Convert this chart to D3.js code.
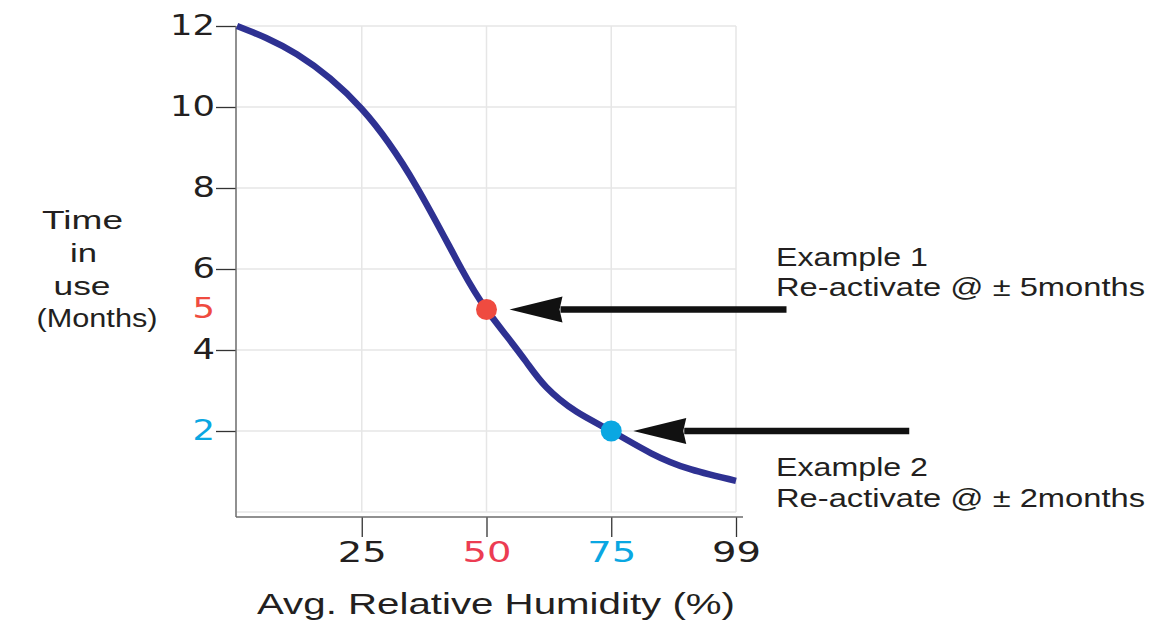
<!DOCTYPE html>
<html>
<head>
<meta charset="utf-8">
<script src="https://cdn.jsdelivr.net/npm/d3@7"></script>
<style>
  body { margin: 0; background: #fff; }
  text { font-family: "Liberation Sans", Arial, sans-serif; fill: #231f20; }
  .tick text { font-family: "DejaVu Sans", sans-serif; }
</style>
</head>
<body>
<div id="primaryViz"></div>
<script>
// curve: humidity (%) vs time in use (months)
const humidity = [0, 12, 25, 36, 45, 50, 54, 58, 62, 68, 75, 83, 91, 100];
const months = [12, 11.3, 9.95, 8.03, 6.0, 5.0, 4.35, 3.7, 3.08, 2.48, 2.0, 1.45, 1.05, 0.77];

const xTicks = [25, 50, 75, 100];
const xTickLabels = ["25", "50", "75", "99"];
const yTicks = [2, 4, 6, 8, 10, 12];
const yGrid = [0, 2, 4, 6, 8, 10, 12];

// highlighted examples
const exampleX = [50, 75];
const exampleY = [5, 2];
const exampleTitles = ["Example 1", "Example 2"];
const exampleNotes = ["Re-activate @ \u00b1 5months", "Re-activate @ \u00b1 2months"];

const yLabelLines = ["Time", "in", "use", "(Months)"];
const xLabel = "Avg. Relative Humidity (%)";

const red = "#ef4b40";
const blue = "#0aa7e2";

const width = 1151;
const height = 622;

const xScale = d3.scaleLinear().domain([0, 100]).range([237, 736]);
const yScale = d3.scaleLinear().domain([0, 12]).range([512, 26]);

const svg = d3
  .select("#primaryViz")
  .append("svg")
  .attr("width", width)
  .attr("height", height);

// grid
svg
  .append("g")
  .selectAll("line")
  .data(yGrid)
  .enter()
  .append("line")
  .attr("x1", xScale(0))
  .attr("x2", xScale(100))
  .attr("y1", (d) => yScale(d))
  .attr("y2", (d) => yScale(d))
  .attr("stroke", "#e6e6e6")
  .attr("stroke-width", 1.5);

svg
  .append("g")
  .selectAll("line")
  .data(xTicks)
  .enter()
  .append("line")
  .attr("x1", (d) => xScale(d))
  .attr("x2", (d) => xScale(d))
  .attr("y1", yScale(0))
  .attr("y2", yScale(12))
  .attr("stroke", "#e6e6e6")
  .attr("stroke-width", 1.5);

// axes (domain lines drawn by hand, they run a bit past the grid)
const axisY = yScale(0) + 5;
const axisX = xScale(0) - 1;

const yAxis = d3.axisLeft(yScale).tickValues(yTicks).tickSize(20).tickPadding(1);
const yG = svg
  .append("g")
  .attr("class", "myYaxis")
  .attr("transform", "translate(" + axisX + ",0)")
  .call(yAxis);
yG.select(".domain").remove();
yG.selectAll(".tick line").attr("stroke", "#333").attr("stroke-width", 1.3);
yG.selectAll(".tick text")
  .attr("font-size", 28)
  .style("fill", (d) => (d === 2 ? blue : "#231f20"))
  .attr("textLength", (d) => String(d).length * 22.5)
  .attr("lengthAdjust", "spacingAndGlyphs");

// extra red label at 5 (no tick)
svg
  .append("text")
  .attr("class", "tick")
  .attr("x", axisX - 21)
  .attr("y", yScale(exampleY[0]))
  .attr("dy", "0.32em")
  .attr("text-anchor", "end")
  .attr("font-size", 28)
  .attr("textLength", 22.5)
  .attr("lengthAdjust", "spacingAndGlyphs")
  .style("font-family", '"DejaVu Sans", sans-serif')
  .style("fill", red)
  .text(exampleY[0]);

const xAxis = d3
  .axisBottom(xScale)
  .tickValues(xTicks)
  .tickSize(20)
  .tickPadding(5)
  .tickFormat((d, i) => xTickLabels[i]);
const xG = svg
  .append("g")
  .attr("class", "myXaxis")
  .attr("transform", "translate(0," + axisY + ")")
  .call(xAxis);
xG.select(".domain").remove();
xG.selectAll(".tick line").attr("stroke", "#333").attr("stroke-width", 1.3);
xG.selectAll(".tick text")
  .attr("font-size", 28)
  .style("fill", (d) => (d === 50 ? "#ec3c52" : d === 75 ? blue : "#231f20"))
  .attr("textLength", (d, i) => xTickLabels[i].length * 24.5)
  .attr("lengthAdjust", "spacingAndGlyphs");

svg
  .append("line")
  .attr("x1", axisX)
  .attr("x2", axisX)
  .attr("y1", yScale(12))
  .attr("y2", axisY)
  .attr("stroke", "#6b6b6b")
  .attr("stroke-width", 1.5);

svg
  .append("line")
  .attr("x1", axisX)
  .attr("x2", xScale(100) + 7)
  .attr("y1", axisY)
  .attr("y2", axisY)
  .attr("stroke", "#6b6b6b")
  .attr("stroke-width", 1.5);

// curve
const curveData = humidity.map((h, i) => ({ h: h, m: months[i] }));
svg
  .append("path")
  .datum(curveData)
  .attr("fill", "none")
  .attr("stroke", "#2e3192")
  .attr("stroke-width", 6.5)
  .attr(
    "d",
    d3
      .line()
      .curve(d3.curveNatural)
      .x((d) => xScale(d.h))
      .y((d) => yScale(d.m))
  );

// example dots
svg
  .selectAll(".dot")
  .data(exampleX)
  .enter()
  .append("circle")
  .attr("class", "dot")
  .attr("cx", (d) => xScale(d))
  .attr("cy", (d, i) => yScale(exampleY[i]))
  .attr("r", 10.5)
  .attr("fill", (d, i) => (i === 0 ? red : blue));

// arrows pointing at the dots
const arrowTip = [23, 22];
const arrowTail = [300, 298];
exampleX.forEach((d, i) => {
  const tx = xScale(d) + arrowTip[i];
  const ty = yScale(exampleY[i]);
  const headLen = 53;
  svg
    .append("line")
    .attr("x1", tx + headLen - 2)
    .attr("x2", xScale(d) + arrowTail[i])
    .attr("y1", ty)
    .attr("y2", ty)
    .attr("stroke", "#111")
    .attr("stroke-width", 6.5);
  svg
    .append("path")
    .attr(
      "d",
      "M" + tx + "," + ty +
        "L" + (tx + headLen) + "," + (ty - 13) +
        "L" + (tx + headLen - 3) + "," + ty +
        "L" + (tx + headLen) + "," + (ty + 13) + "Z"
    )
    .attr("fill", "#111");
});

// example texts
const noteOffsets = [
  [-44, -14],
  [45, 76],
];
exampleX.forEach((d, i) => {
  const ty = yScale(exampleY[i]);
  svg
    .append("text")
    .attr("x", 776)
    .attr("y", ty + noteOffsets[i][0])
    .attr("font-size", 26)
    .attr("textLength", 152)
    .attr("lengthAdjust", "spacingAndGlyphs")
    .text(exampleTitles[i]);
  svg
    .append("text")
    .attr("x", 776)
    .attr("y", ty + noteOffsets[i][1])
    .attr("font-size", 26)
    .attr("textLength", 369)
    .attr("lengthAdjust", "spacingAndGlyphs")
    .text(exampleNotes[i]);
});

// y label
const yLabelX = [82.5, 83.5, 82, 97];
const yLabelW = [81, 27, 57, 121];
svg
  .append("g")
  .selectAll("text")
  .data(yLabelLines)
  .enter()
  .append("text")
  .attr("x", (d, i) => yLabelX[i])
  .attr("y", (d, i) => 229 + i * 32.8)
  .attr("text-anchor", "middle")
  .attr("font-size", 26.5)
  .attr("textLength", (d, i) => yLabelW[i])
  .attr("lengthAdjust", "spacingAndGlyphs")
  .text((d) => d);

// x label
svg
  .append("text")
  .attr("x", 496)
  .attr("y", 614)
  .attr("text-anchor", "middle")
  .attr("font-size", 29)
  .attr("textLength", 478)
  .attr("lengthAdjust", "spacingAndGlyphs")
  .text(xLabel);
</script>
</body>
</html>
